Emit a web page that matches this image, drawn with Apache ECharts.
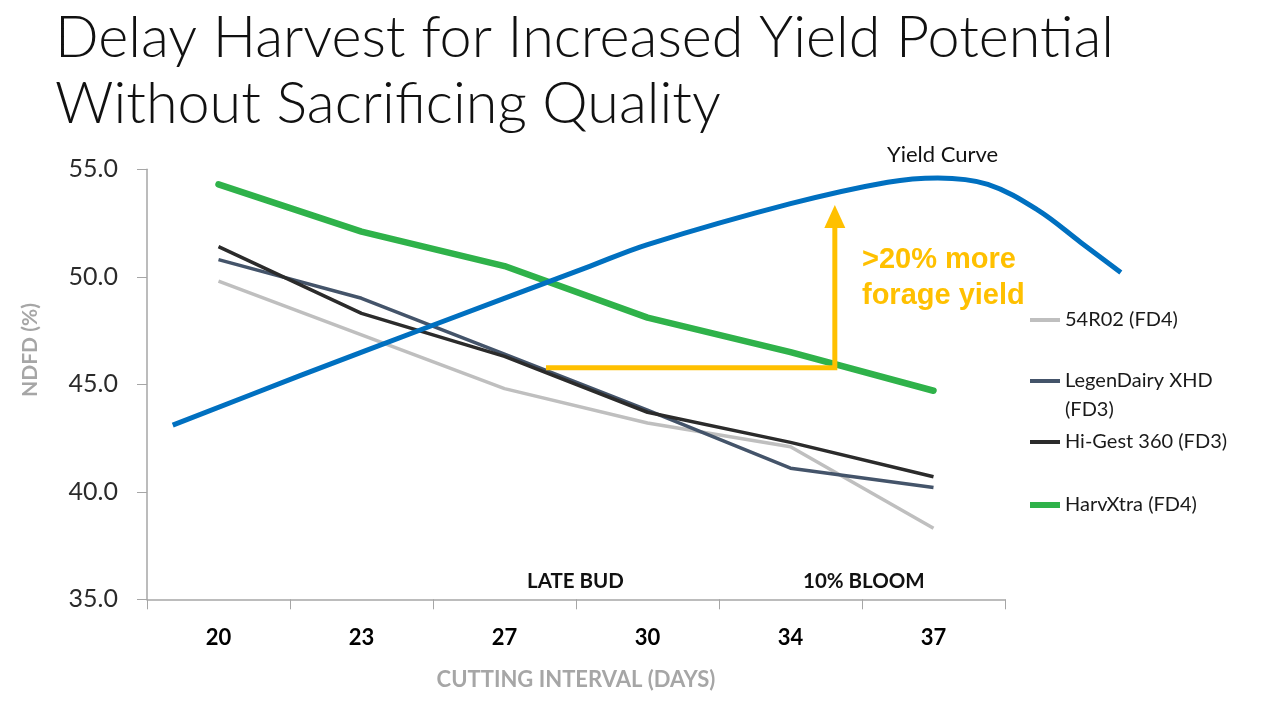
<!DOCTYPE html>
<html>
<head>
<meta charset="utf-8">
<script src="https://cdn.jsdelivr.net/npm/echarts@6/dist/echarts.min.js"></script>
<style>html,body{margin:0;padding:0;background:#fff;}#c{width:1280px;height:702px;}</style>
</head>
<body>
<div id="c"></div>
<script>
const categories = ['20', '23', '27', '30', '34', '37'];
const yTicks = [35, 40, 45, 50, 55];
const s54R02 = [49.8, 47.3, 44.8, 43.2, 42.1, 38.3];
const legenDairy = [50.8, 49.0, 46.4, 43.8, 41.1, 40.2];
const hiGest = [51.4, 48.3, 46.3, 43.7, 42.3, 40.7];
const harvXtra = [54.3, 52.1, 50.5, 48.1, 46.5, 44.7];
// yield curve: x in category-index units (20 = 0, 37 = 5)
const yieldX = [-0.32, 0.57, 1.48, 2.6, 3.0, 4.0, 4.68, 5.03, 5.38, 5.73, 6.03, 6.31];
const yieldY = [43.1, 45.4, 47.7, 50.5, 51.5, 53.4, 54.4, 54.6, 54.3, 53.1, 51.6, 50.2];
const arrowX = [2.29, 4.31, 4.31];
const arrowY = [45.77, 45.77, 52.8];

const FONT = 'Lato';
const chart = echarts.init(document.getElementById('c'), null, {renderer: 'canvas'});

const legendItem = (name, top, h) => ({
  left: 1030, top: top, itemWidth: 30, itemHeight: h, icon: 'rect', padding: 0,
  selectedMode: false, data: [name], itemGap: 0,
  textStyle: {fontFamily: FONT, fontSize: 20, color: '#1a1a1a', lineHeight: 22}
});

const option = {
  animation: false,
  backgroundColor: '#fff',
  title: {
    text: 'Delay Harvest for Increased Yield Potential\nWithout Sacrificing Quality',
    left: 50, top: 0,
    textStyle: {fontFamily: FONT, fontWeight: 300, fontSize: 57.5, lineHeight: 66, color: '#111'}
  },
  legend: [
    legendItem('54R02 (FD4)', 309, 4),
    legendItem('LegenDairy XHD', 370, 4),
    legendItem('Hi-Gest 360 (FD3)', 431, 4),
    legendItem('HarvXtra (FD4)', 494, 6)
  ],
  grid: [
    {left: 147, top: 169.3, width: 858, height: 430},
    {left: 147, top: 169.3, width: 1001, height: 430}
  ],
  xAxis: [
    {
      type: 'category', gridIndex: 0, data: categories, boundaryGap: true,
      axisLine: {lineStyle: {color: '#a6a6a6', width: 1.5}},
      axisTick: {show: true, length: 10, lineStyle: {color: '#a6a6a6'}},
      axisLabel: {fontFamily: FONT, fontWeight: 'bold', fontSize: 22, color: '#000', margin: 28},
      name: 'CUTTING INTERVAL (DAYS)', nameLocation: 'middle', nameGap: 70,
      nameTextStyle: {fontFamily: FONT, fontWeight: 'bold', fontSize: 22, color: '#a6a6a6'}
    },
    {type: 'value', gridIndex: 1, min: -0.5, max: 6.5, show: false}
  ],
  yAxis: [
    {
      type: 'value', gridIndex: 0, min: 35, max: 55, interval: 5,
      axisLine: {show: true, lineStyle: {color: '#a6a6a6', width: 1.5}},
      axisTick: {show: true, length: 10, lineStyle: {color: '#a6a6a6'}},
      splitLine: {show: false},
      axisLabel: {fontFamily: FONT, fontSize: 25, color: '#2a2a2a', margin: 29,
        formatter: v => yTicks.indexOf(v) >= 0 ? v.toFixed(1) : ''}
    },
    {type: 'value', gridIndex: 1, min: 35, max: 55, show: false}
  ],
  series: [
    {name: '54R02 (FD4)', type: 'line', data: s54R02, symbol: 'none', color: '#bfbfbf',
     lineStyle: {width: 3.5, color: '#bfbfbf'}},
    {name: 'LegenDairy XHD', type: 'line', data: legenDairy, symbol: 'none', color: '#44546a',
     lineStyle: {width: 3.5, color: '#44546a'}},
    {name: 'Hi-Gest 360 (FD3)', type: 'line', data: hiGest, symbol: 'none', color: '#2b2b2b',
     lineStyle: {width: 3.5, color: '#2b2b2b'}},
    {name: 'HarvXtra (FD4)', type: 'line', data: harvXtra, symbol: 'none', color: '#2fb24a',
     lineStyle: {width: 6.5, color: '#2fb24a', cap: 'round'}},
    {name: 'Yield Curve', type: 'line', xAxisIndex: 1, yAxisIndex: 1, smooth: 0.35,
     data: yieldX.map((x, i) => [x, yieldY[i]]), symbol: 'none', color: '#0070c0',
     lineStyle: {width: 5, color: '#0070c0'}},
    {name: 'arrow', type: 'line', xAxisIndex: 1, yAxisIndex: 1,
     data: arrowX.map((x, i) => (i === arrowX.length - 1 ?
       {value: [x, arrowY[i]], symbol: 'triangle', symbolSize: [21, 23], itemStyle: {color: '#ffc000', borderWidth: 0}} :
       {value: [x, arrowY[i]], symbol: 'none'})),
     showSymbol: true, color: '#ffc000',
     lineStyle: {width: 5, color: '#ffc000', join: 'miter', cap: 'butt'}}
  ],
  graphic: [
    {type: 'text', x: 1065, y: 410, style: {text: '(FD3)', font: '20px Lato', fill: '#1a1a1a', verticalAlign: 'middle'}},
    {type: 'text', x: 30, y: 350, rotation: Math.PI / 2,
     style: {text: 'NDFD (%)', font: 'bold 21px Lato', fill: '#a6a6a6', align: 'center', verticalAlign: 'middle'}},
    {type: 'text', x: 887, y: 155, style: {text: 'Yield Curve', font: '22px Lato', fill: '#111', verticalAlign: 'middle'}},
    {type: 'text', x: 862, y: 260, style: {text: '>20% more', font: 'bold 29px "Liberation Sans"', fill: '#ffc000', verticalAlign: 'middle'}},
    {type: 'text', x: 862, y: 296, style: {text: 'forage yield', font: 'bold 29px "Liberation Sans"', fill: '#ffc000', verticalAlign: 'middle'}},
    {type: 'text', x: 527, y: 581, style: {text: 'LATE BUD', font: 'bold 20.5px Lato', fill: '#111', verticalAlign: 'middle'}},
    {type: 'text', x: 803, y: 581, style: {text: '10% BLOOM', font: 'bold 20.5px Lato', fill: '#111', verticalAlign: 'middle'}}
  ]
};
chart.setOption(option);
</script>
</body>
</html>
